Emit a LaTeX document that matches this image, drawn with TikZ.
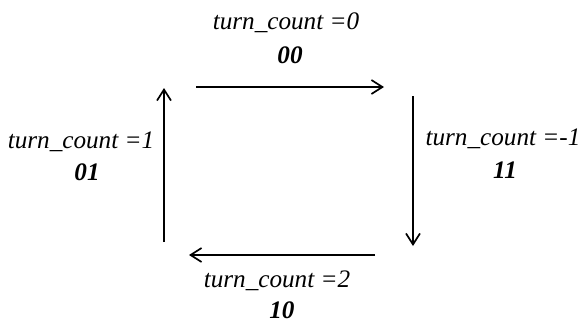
\documentclass[tikz,border=0pt]{standalone}
\usepackage{fontspec}
\setmainfont{Liberation Serif}
\usetikzlibrary{arrows.meta}

\tikzset{
  lbl/.style={font=\fontsize{12.6}{14}\selectfont\itshape,inner sep=0pt},
  val/.style={font=\fontsize{12.6}{14}\selectfont\bfseries\itshape,inner sep=0pt},
  turn/.style={-{Straight Barb[length=5.5pt,width=7pt]},line width=0.85pt}
}

\begin{document}
\begin{tikzpicture}[x=0.5pt,y=-0.5pt]
	  \useasboundingbox (0,0) rectangle (585,322);
	  % arrows
	  \coordinate (t1) at (196,87);
	  \coordinate (t2) at (384,87);
	  \coordinate (r1) at (413,96);
	  \coordinate (r2) at (413,246);
	  \coordinate (b1) at (375,255);
	  \coordinate (b2) at (189,255);
	  \coordinate (l1) at (164,242);
	  \coordinate (l2) at (164,88);
	  \draw[turn] (t1) -- (t2);
	  \draw[turn] (r1) -- (r2);
	  \draw[turn] (b1) -- (b2);
	  \draw[turn] (l1) -- (l2);
	  % labels
	  \node[lbl] (lbl0) at (286,23) {turn\_count =0};
	  \node[val] (val0) at (290,55) {00};
	  \node[lbl] (lbl1) at (81,142) {turn\_count =1};
	  \node[val] (val1) at (87,172) {01};
	  \node[lbl] (lbl2) at (503,139) {turn\_count =-1};
	  \node[val] (val2) at (505,170) {11};
	  \node[lbl] (lbl3) at (277,281) {turn\_count =2};
	  \node[val] (val3) at (282,310) {10};
	\end{tikzpicture}
\end{document}
